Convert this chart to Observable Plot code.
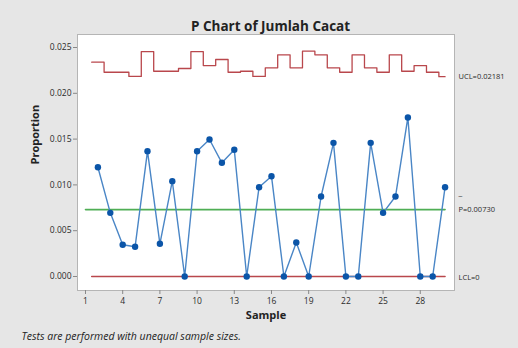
<!DOCTYPE html>
<html>
<head>
<meta charset="utf-8">
<script src="https://cdn.jsdelivr.net/npm/d3@7"></script>
<script src="https://cdn.jsdelivr.net/npm/@observablehq/plot@0.6"></script>
<style>
  html, body { margin: 0; padding: 0; background: #e6e6e6; }
  #chart svg { display: block; }
</style>
</head>
<body>
<div id="chart"></div>
<script>
const samples = [2,3,4,5,6,7,8,9,10,11,12,13,14,15,16,17,18,19,20,21,22,23,24,25,26,27,28,29,30];
const proportions = [0.01193,0.00695,0.00346,0.00324,0.01368,0.00357,0.01041,0,0.01368,0.01496,0.01241,0.01383,0,0.00975,0.01095,0,0.00371,0,0.00873,0.01459,0,0,0.01459,0.00695,0.00873,0.01736,0,0,0.00975];
const ucl = [0.02340,0.02230,0.02230,0.02184,0.02456,0.02241,0.02241,0.02271,0.02456,0.02303,0.02369,0.02230,0.02241,0.02184,0.02278,0.02420,0.02278,0.02460,0.02420,0.02278,0.02230,0.02420,0.02278,0.02230,0.02420,0.02241,0.02303,0.02230,0.02181];
const centerLine = 0.00730;
const lcl = 0;
const xTicks = [1,4,7,10,13,16,19,22,25,28];
const yTicks = [0,0.005,0.010,0.015,0.020,0.025];
const title = "P Chart of Jumlah Cacat";
const xLabel = "Sample";
const yLabel = "Proportion";
const footnote = "Tests are performed with unequal sample sizes.";
const uclLabel = "UCL=0.02181";
const centerLabel = "P=0.00730";
const lclLabel = "LCL=0";

const points = samples.map((s, i) => ({sample: s, p: proportions[i]}));
const first = samples[0], last = samples[samples.length - 1];
const uclSteps = samples.map((s, i) => ({x: s - 0.5, y: ucl[i]}));
uclSteps.push({x: last, y: ucl[ucl.length - 1]});
const lclLine = [{x: first - 0.5, y: lcl}, {x: last, y: lcl}];
const centerData = [{x: 1, y: centerLine}, {x: last, y: centerLine}];

const red = "#b9474c";
const green = "#4fae55";
const textColor = "#2b2b2b";

const chart = Plot.plot({
  width: 518,
  height: 348,
  marginLeft: 77,
  marginRight: 64,
  marginTop: 34,
  marginBottom: 58,
  style: {background: "#e6e6e6", fontFamily: "'Open Sans', 'Noto Sans', sans-serif", color: textColor, overflow: "visible"},
  x: {domain: [0.355, 30.76]},
  y: {domain: [-0.00153, 0.02642]},
  marks: [
    Plot.frame({fill: "white", stroke: "#b5b5b5", strokeWidth: 1}),
    Plot.axisX({ticks: xTicks, tickSize: 4, tickPadding: 3, tickFormat: d => d, fontSize: 8.5, stroke: "#888", label: null}),
    Plot.axisY({ticks: yTicks, tickSize: 4, tickPadding: 2, tickFormat: d3.format(".3f"), fontSize: 8.5, stroke: "#888", label: null}),
    Plot.line(uclSteps, {x: "x", y: "y", curve: "step-after", stroke: red, strokeWidth: 1.3}),
    Plot.line(lclLine, {x: "x", y: "y", stroke: red, strokeWidth: 1.5}),
    Plot.line(centerData, {x: "x", y: "y", stroke: green, strokeWidth: 1.6}),
    Plot.line(points, {x: "sample", y: "p", stroke: "#4a86c6", strokeWidth: 1.4}),
    Plot.dot(points, {x: "sample", y: "p", r: 3.2, fill: "#0b55a8", stroke: "none"}),
    Plot.text([uclLabel], {text: d => d, y: () => ucl[ucl.length - 1], frameAnchor: "right", dx: 4, textAnchor: "start", fontSize: 7.5, fill: textColor}),
    Plot.text([centerLabel], {text: d => d, y: () => centerLine, frameAnchor: "right", dx: 4, dy: 0, textAnchor: "start", fontSize: 7.5, fill: textColor}),
    Plot.text(["\u203E"], {text: d => d, y: () => centerLine, frameAnchor: "right", dx: 4, dy: -10, textAnchor: "start", fontSize: 7.5, fill: textColor}),
    Plot.text([lclLabel], {text: d => d, y: () => lcl, frameAnchor: "right", dx: 4, dy: 1.5, textAnchor: "start", fontSize: 7.5, fill: textColor}),
    Plot.text([title], {text: d => d, frameAnchor: "top", dx: 4.5, dy: -13.5, fontSize: 13.5, fontWeight: "bold", fill: "#222"}),
    Plot.text([xLabel], {text: d => d, frameAnchor: "bottom", dy: 28, fontSize: 11, fontWeight: "bold", fill: "#222"}),
    Plot.text([yLabel], {text: d => d, frameAnchor: "left", dx: -42, dy: 2, rotate: -90, fontSize: 11, fontWeight: "bold", fill: "#222"}),
    Plot.text([footnote], {text: d => d, frameAnchor: "bottom-left", dx: -56, dy: 49, textAnchor: "start", fontSize: 10.5, fontStyle: "italic", fill: "#222"})
  ]
});
document.getElementById("chart").appendChild(chart);
</script>
</body>
</html>
